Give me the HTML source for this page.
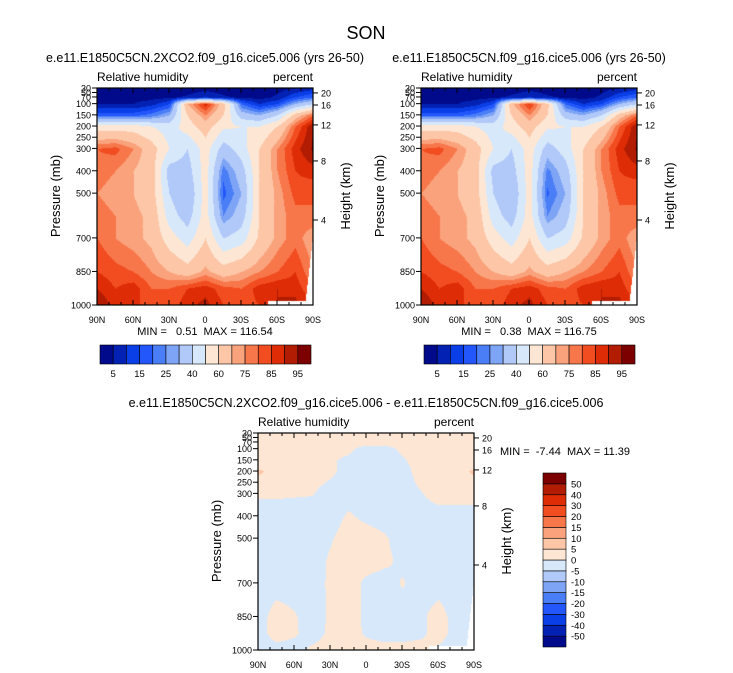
<!DOCTYPE html>
<html><head><meta charset="utf-8">
<style>
body{margin:0;background:#fff;}
#wrap{position:relative;width:733px;height:673px;overflow:hidden;font-family:"Liberation Sans",Arial,sans-serif;color:#000;}
svg text{font-family:"Liberation Sans",Arial,sans-serif;white-space:pre;}
canvas{position:absolute;}
</style></head>
<body>
<div id="wrap">
<canvas id="c1" width="216" height="217" style="left:97px;top:88px"></canvas>
<canvas id="c2" width="216" height="217" style="left:421px;top:88px"></canvas>
<canvas id="c3" width="216" height="217" style="left:258px;top:433px"></canvas>
<svg id="svg" width="733" height="673" style="position:absolute;left:0;top:0"></svg>
</div>
<script>
// ---- data ----
const lats = [90,75,60,45,30,15,0,-15,-30,-45,-60,-75,-90];
const levels = [30,70,100,150,200,300,400,500,600,700,850,925,1000];
const rhCase = [
 [2,2,2,2,2,2,3,2,2,2,3,5,8],
 [3,3,3,3,4,6,10,6,4,3,6,15,20],
 [5,5,5,8,15,70,88,65,20,10,15,30,40],
 [18,18,18,22,30,60,75,60,35,30,40,65,80],
 [55,55,55,50,45,55,65,52,50,50,60,80,95],
 [80,82,75,65,50,40,55,35,45,60,75,88,96],
 [78,75,70,65,35,35,55,22,35,60,75,85,88],
 [75,72,70,65,40,30,55,18,30,60,72,82,80],
 [78,75,72,68,45,35,55,25,35,60,72,78,80],
 [80,75,72,68,55,45,60,40,45,62,72,78,70],
 [85,82,80,75,70,65,72,65,70,75,80,85,75],
 [90,85,88,80,80,85,88,82,80,88,90,88,80],
 [95,88,85,85,82,88,92,85,82,85,90,92,85]];
const rhCtrl = [
 [2,2,2,2,2,2,3,2,2,2,3,5,8],
 [3,3,3,3,4,6,10,6,4,3,6,15,20],
 [5,5,5,8,15,68,86,63,20,10,15,30,40],
 [18,18,18,22,30,60,75,60,35,30,40,65,80],
 [55,55,55,50,45,55,65,52,50,50,60,80,95],
 [80,82,75,65,50,40,55,35,45,60,75,88,96],
 [78,75,70,65,36,35,55,23,35,60,75,85,88],
 [75,72,70,65,40,30,55,19,30,60,72,82,80],
 [78,75,72,68,45,35,55,25,35,60,72,78,80],
 [80,75,72,68,55,45,60,40,45,62,72,78,70],
 [85,82,80,75,70,65,72,65,70,75,80,85,75],
 [90,85,88,80,80,85,88,82,80,88,90,88,80],
 [95,88,85,85,82,88,92,85,82,85,90,92,85]];
const rhDiff = [
 [1,1,1,1,1,1,1,1,1,1,1,1,1],
 [1,1,1,1,1,1,1,1,1,1,1,1,1],
 [1,1,1,1,1,0.5,-1,-1,0.5,1,1,1,1],
 [1,1,1,1,0.3,-0.5,-1,-1,-0.3,1,1,1,1],
 [6,3,1,1,0.5,-1,-1,-1,-1,1,1,3,6],
 [0.3,0.3,0.2,0.1,-1,-1,-1,-1,-1,-0.2,1,1,1],
 [-1,-1,-1,-1,-1,0.3,-0.5,-1,-1,-1,-1,-1,-1],
 [-1,-1,-1,-1,-0.2,1,1,0.3,-1,-1,-1,-1,-1],
 [-1,-1,-1,-1,0.3,1,1,0.5,-0.5,-1,-1,-1,-1],
 [-1,-1,-1,-1,0.4,1,-0.5,-1,0.2,-1,-1,-1,-1],
 [-1,1,0.2,-1,0.3,1,-0.5,-1,-1,-0.5,1,-1,-1],
 [-1,1,0.3,-1,0.5,1,-0.3,-1,-1,-0.5,1,-1,-1],
 [-1,-1,-1,0.5,1,1,1,1,1,1,-0.5,-1,-1]];
const rhLevels = [5,10,15,20,25,30,40,50,60,70,75,80,85,90,95];
const rhLabels = ["5","15","25","40","60","75","85","95"];
const diffLevels = [-50,-40,-30,-20,-15,-10,-5,0,5,10,15,20,30,40,50];
const diffLabels = ["-50","-40","-30","-20","-15","-10","-5","0","5","10","15","20","30","40","50"];
const colors = ["#000a8a","#0322b4","#0a3ee6","#2357fb","#4a7ef7","#7ea4f6","#b1c9f9","#d8e8fb","#fde7d4","#fcc6a7","#faa27b","#f7774b","#f24d21","#de2d06","#b11c02","#7d0000"];
const pTicks = [30,50,70,100,150,200,250,300,400,500,700,850,1000];
const zTicks = [[20,52],[16,106],[12,195],[8,356],[4,620]];
const latTicks = [90,60,30,0,-30,-60,-90];
const latNames = ["90N","60N","30N","0","30S","60S","90S"];

const W=216,H=217;
function yOfP(p,top){return top+(p-30)/970*H;}
function xOfLat(l,left){return left+(90-l)/180*W;}
function interp(grid,lat,p){
  let i=0; while(i<lats.length-2 && lat<lats[i+1]) i++;
  let fx=(lats[i]-lat)/(lats[i]-lats[i+1]);
  let j=0; while(j<levels.length-2 && p>levels[j+1]) j++;
  let fy=(p-levels[j])/(levels[j+1]-levels[j]);
  fx=Math.max(0,Math.min(1,fx));fy=Math.max(0,Math.min(1,fy));
  const a=grid[j][i],b=grid[j][i+1],c=grid[j+1][i],d=grid[j+1][i+1];
  return a*(1-fx)*(1-fy)+b*fx*(1-fy)+c*(1-fx)*fy+d*fx*fy;
}
function bin(v,lv){let k=0;while(k<lv.length&&v>=lv[k])k++;return k;}
function hex(h){return [parseInt(h.substr(1,2),16),parseInt(h.substr(3,2),16),parseInt(h.substr(5,2),16)];}
const rgb=colors.map(hex);
function drawField(id,grid,lv){
  const cv=document.getElementById(id),ctx=cv.getContext('2d');
  const img=ctx.createImageData(W,H);
  for(let y=0;y<H;y++)for(let x=0;x<W;x++){
    const lat=90-x/W*180,p=30+y/H*970;
    let c;
    if((lat<-52&&p>978)||(p>680&&lat<-90+(p-680)/320*7)) c=[255,255,255];
    else c=rgb[bin(interp(grid,lat,p),lv)];
    const o=(y*W+x)*4;img.data[o]=c[0];img.data[o+1]=c[1];img.data[o+2]=c[2];img.data[o+3]=255;
  }
  ctx.putImageData(img,0,0);
}
drawField('c1',rhCase,rhLevels);
drawField('c2',rhCtrl,rhLevels);
drawField('c3',rhDiff,diffLevels);

const svg=document.getElementById('svg');const NS="http://www.w3.org/2000/svg";
function el(tag,attrs,parent){const e=document.createElementNS(NS,tag);for(const k in attrs)e.setAttribute(k,attrs[k]);(parent||svg).appendChild(e);return e;}
function txt(s,x,y,size,anchor,name,extra){const t=el('text',Object.assign({x:x,y:y,'font-size':size,'text-anchor':anchor||'middle'},extra||{}));t.textContent=s;


return t;}

txt("SON",366,39,18,'middle','main-title');
function panel(left,top,title,titleY,mm,mmPos,pfx){
  const g=el('g',{});
  
  
  if(title) txt(title,left+108,titleY,12.5,'middle',pfx+'-title');
  txt("Relative humidity",left,top-7,12,'start',pfx+'-variable-label');
  txt("percent",left+W,top-7,12,'end',pfx+'-units-label');
  el('rect',{x:left,y:top,width:W,height:H,fill:'none',stroke:'#000','stroke-width':1.2},g);
  pTicks.forEach(p=>{const y=yOfP(p,top);
    el('line',{x1:left-5,y1:y,x2:left,y2:y,stroke:'#000'},g);
    txt(String(p),left-6,y+3.5,9,'end',pfx+'-pressure-tick');});
  zTicks.forEach(z=>{const y=yOfP(z[1],top);
    el('line',{x1:left+W,y1:y,x2:left+W+5,y2:y,stroke:'#000'},g);
    txt(String(z[0]),left+W+8,y+3.5,9,'start',pfx+'-height-tick');});
  for(let l=90;l>=-90;l-=10){const x=xOfLat(l,left);const major=l%30===0;
    el('line',{x1:x,y1:top+H,x2:x,y2:top+H-(major?5:3),stroke:'#000'},g);
    el('line',{x1:x,y1:top,x2:x,y2:top+(major?5:3),stroke:'#000'},g);}
  latTicks.forEach((l,i)=>txt(latNames[i],xOfLat(l,left),top+H+18,9,'middle',pfx+'-lat-tick'));
  txt("Pressure (mb)",0,0,13,'middle',pfx+'-y-axis-title',{transform:`translate(${left-37},${top+108}) rotate(-90)`});
  txt("Height (km)",0,0,13,'middle',pfx+'-right-axis-title',{transform:`translate(${left+W+37},${top+108}) rotate(-90)`});
  txt(mm,mmPos[0],mmPos[1],11,mmPos[2],pfx+'-min-max');
}
panel(97,88,"e.e11.E1850C5CN.2XCO2.f09_g16.cice5.006 (yrs 26-50)",62,"MIN =   0.51  MAX = 116.54",[205,335,'middle'],'top-left');
panel(421,88,"e.e11.E1850C5CN.f09_g16.cice5.006 (yrs 26-50)",62,"MIN =   0.38  MAX = 116.75",[529,335,'middle'],'top-right');
txt("e.e11.E1850C5CN.2XCO2.f09_g16.cice5.006 - e.e11.E1850C5CN.f09_g16.cice5.006",366,407,12.5,'middle','difference-title');
panel(258,433,null,0,"MIN =  -7.44  MAX = 11.39",[500,455,'start'],'bottom');

function hbar(left,name){
  const bw=211/16;
  colors.forEach((c,i)=>{const r=el('rect',{x:left+i*bw,y:345,width:bw,height:19,fill:c,stroke:'#000','stroke-width':0.6});
    
    });
  rhLabels.forEach((s,i)=>txt(s,left+(2*i+1)*bw,377,9.5,'middle',name+'-label'));
}
hbar(100,'top-left-colorbar');hbar(424,'top-right-colorbar');
const vh=174/16;
colors.forEach((c,i)=>{const r=el('rect',{x:543,y:473+(15-i)*vh,width:23,height:vh,fill:c,stroke:'#000','stroke-width':0.6});
  
  });
diffLabels.forEach((s,i)=>txt(s,571,473+(15-i)*vh+3.5,9.5,'start','difference-colorbar-label'));
</script>
</body></html>
